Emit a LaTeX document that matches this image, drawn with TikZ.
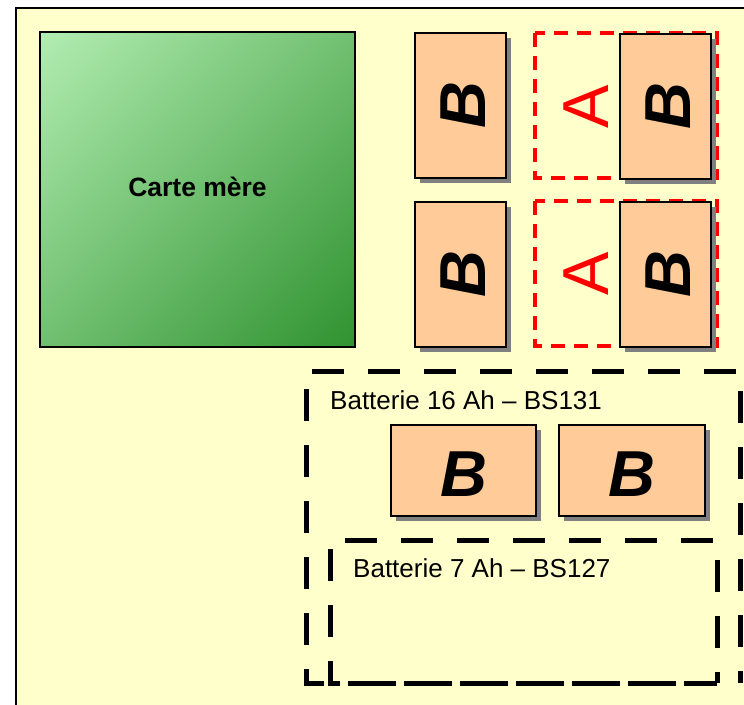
\documentclass[tikz,border=0pt]{standalone}
\usepackage{fontspec}
\setmainfont{Liberation Sans}
\usetikzlibrary{shadows}
\definecolor{bg}{HTML}{FFFFCC}
\definecolor{peach}{HTML}{FFCC99}
\definecolor{lightg}{HTML}{CCFFCC}
\definecolor{darkg}{HTML}{158015}
\definecolor{shadowgray}{HTML}{808080}
\pgfdeclareverticalshading{cmshade}{100bp}{color(0bp)=(darkg); color(100bp)=(lightg)}
\tikzset{
  bbox/.style={draw=black, line width=1.5pt, fill=peach, inner sep=0pt,
    drop shadow={shadow xshift=5pt, shadow yshift=-5pt, fill=shadowgray, opacity=1}},
  bletter/.style={font=\fontsize{65}{65}\selectfont\bfseries\itshape},
  aletter/.style={font=\fontsize{65}{65}\selectfont, text=red, rotate=90},
  redzone/.style={draw=red, line width=3.5pt, dash pattern=on 14pt off 9pt},
  battzone/.style={draw=black, line width=5pt, dash pattern=on 32pt off 24pt},
  batlabel/.style={anchor=base west, font=\fontsize{26}{26}\selectfont, inner sep=0pt}
}
\begin{document}
\begin{tikzpicture}[x=1pt,y=-1pt]
\useasboundingbox (0,0) rectangle (744,704);
\clip (0,0) rectangle (744,704);
\fill[white] (0,0) rectangle (744,704);
\draw[fill=bg, line width=1.5pt] (16,8) rectangle (790,750);

% motherboard
\node (cm) [draw=black, line width=1.2pt, inner sep=0pt, minimum width=315pt, minimum height=315pt,
  shading=cmshade, shading angle=45,
  font=\fontsize{26.5}{26.5}\selectfont\bfseries] at (197.5,189.5) {\raisebox{5pt}{Carte mère}};

% red dashed zones
\draw[redzone] (535,33) rectangle (717,178);
\draw[redzone] (535,201) rectangle (717,346);
\node (a1) [aletter] at (586,107) {A};
\node (a2) [aletter] at (586,274) {A};

% vertical B boxes
\node (b1) [bbox, minimum width=91pt, minimum height=145pt] at (460.5,105.5) {};
\node (b2) [bbox, minimum width=91pt, minimum height=145pt] at (665.5,106.5) {};
\node (b3) [bbox, minimum width=91pt, minimum height=145pt] at (460.5,274.5) {};
\node (b4) [bbox, minimum width=91pt, minimum height=145pt] at (665.5,274.5) {};
\node (t1) [bletter, xshift=3pt, rotate=90] at (b1) {B};
\node (t2) [bletter, xshift=3pt, rotate=90] at (b2) {B};
\node (t3) [bletter, xshift=3pt, rotate=90] at (b3) {B};
\node (t4) [bletter, xshift=3pt, rotate=90] at (b4) {B};

% battery zones
\draw[battzone, dash phase=32pt] (740,683) -- (306,683) -- (306,371) -- (740,371) -- cycle;
\draw[battzone, dash phase=15pt] (717,683) -- (330,683) -- (330,540) -- (717,540) -- cycle;
\node (l16) [batlabel] at (330,409) {Batterie 16 Ah – BS131};
\node (l7) [batlabel] at (353,577) {Batterie 7 Ah – BS127};

% horizontal B boxes
\node (b5) [bbox, minimum width=145pt, minimum height=91pt] at (463.5,470.5) {};
\node (b6) [bbox, minimum width=146pt, minimum height=91pt] at (632,470.5) {};
\node (t5) [bletter, yshift=-4pt] at (b5) {B};
\node (t6) [bletter, yshift=-4pt] at (b6) {B};
\end{tikzpicture}
\end{document}
